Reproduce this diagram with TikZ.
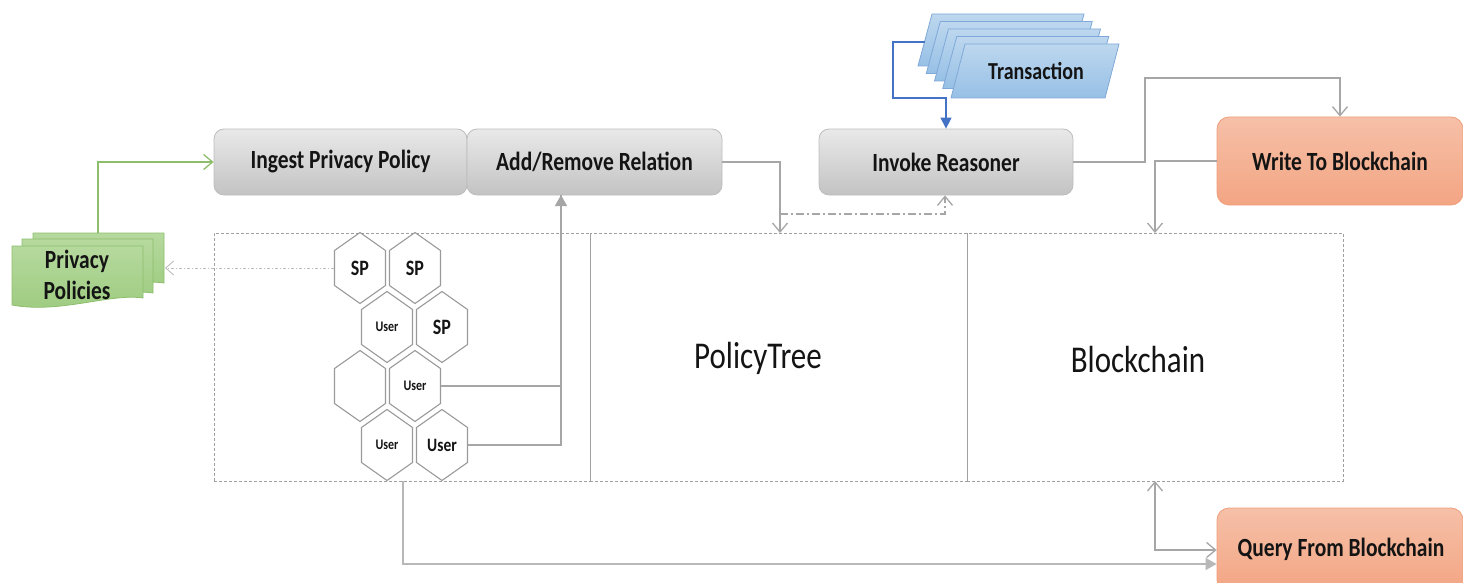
\documentclass[tikz,border=0pt]{standalone}
\usepackage{fontspec}
\usepackage{graphicx}
\setmainfont{Carlito}
\usetikzlibrary{arrows.meta,calc}

\definecolor{ink}{HTML}{141414}
\definecolor{wire}{HTML}{A6A6A6}
\definecolor{frame}{HTML}{A0A0A0}
\definecolor{boxtop}{HTML}{E9E9E9}
\definecolor{boxbot}{HTML}{C3C3C3}
\definecolor{boxline}{HTML}{BDBDBD}
\definecolor{orgtop}{HTML}{F6C0A8}
\definecolor{orgbot}{HTML}{F3A583}
\definecolor{orgline}{HTML}{EE9E7C}
\definecolor{grntop}{HTML}{B6D99E}
\definecolor{grnbot}{HTML}{9CCB7E}
\definecolor{grnline}{HTML}{8DBE6C}
\definecolor{bluetop}{HTML}{BDD7EE}
\definecolor{bluebot}{HTML}{97C0E6}
\definecolor{blueline}{HTML}{7FA8D8}
\definecolor{bluewire}{HTML}{4472C4}
\definecolor{hexline}{HTML}{9A9A9A}

% taller glyphs for the labels
\newcommand{\tall}[1]{\scalebox{1}[1.22]{#1}}

\tikzset{
  labelfont/.style={font=\fontsize{21.5}{25}\selectfont\bfseries, text=ink},
  graybox/.style={labelfont, rounded corners=10pt, draw=boxline, line width=0.8pt,
    top color=boxtop, bottom color=boxbot, minimum height=66pt, inner sep=0pt},
  orangebox/.style={labelfont, rounded corners=12pt, draw=orgline, line width=0.8pt,
    top color=orgtop, bottom color=orgbot, inner sep=0pt},
  panel/.style={draw=frame, line width=0.6pt, dash pattern=on 3pt off 2pt,
    minimum height=248pt, inner sep=0pt},
  bigword/.style={font=\fontsize{31}{36}\selectfont, text=ink},
  wireline/.style={draw=wire, line width=1.5pt},
  openhead/.style={wireline, -{Straight Barb[length=9pt,width=15pt,line width=1.3pt]}},
  openboth/.style={wireline, {Straight Barb[length=9pt,width=15pt,line width=1.3pt]}-{Straight Barb[length=9pt,width=15pt,line width=1.3pt]}},
  solidhead/.style={wireline, -{Triangle[length=11pt,width=12pt]}},
  hexcell/.style={minimum width=51pt, minimum height=71pt, inner sep=0pt, text=ink},
  hexstroke/.style={draw=hexline, line width=1.1pt},
  sptag/.style={font=\fontsize{18}{20}\selectfont\bfseries},
  usertag/.style={font=\fontsize{12}{14}\selectfont\bfseries},
  usertagbig/.style={font=\fontsize{15.5}{17}\selectfont\bfseries},
  txsheet/.style={draw=blueline, line width=0.8pt, top color=bluetop, bottom color=bluebot},
  docsheet/.style={draw=grnline, line width=0.8pt, top color=grntop, bottom color=grnbot},
}

\begin{document}
\begin{tikzpicture}[x=1pt,y=-1pt]
\useasboundingbox (0,0) rectangle (1463,583);

% --- the three dashed panels
\node[panel, minimum width=376pt] (users) at (402,357) {};
\node[panel, minimum width=377pt] (tree)  at (778.5,357) {};
\node[panel, minimum width=376pt] (chain) at (1155,357) {};
\node[bigword] (treelabel)  at (758,358) {\tall{PolicyTree}};
\node[bigword] (chainlabel) at (1138,360) {\tall{Blockchain}};

% --- process boxes
\node[graybox, minimum width=253pt] (ingest) at (340.5,162) {\tall{Ingest Privacy Policy}};
\node[graybox, minimum width=255pt] (addrel) at (594.5,162) {\tall{Add/Remove Relation}};
\node[graybox, minimum width=254pt] (invoke) at (946,162) {\tall{Invoke Reasoner}};
\node[orangebox, minimum width=246pt, minimum height=88pt] (write) at (1340,161) {\tall{Write To Blockchain}};
\node[orangebox, minimum width=246pt, minimum height=84pt] (query) at (1340,550) {};
\node[labelfont] (querytext) at (1341,549) {\tall{Query From Blockchain}};

% --- stack of transactions (back to front)
\foreach \k in {0,...,3}{
  \path[txsheet] ({932+8.25*\k},{14+7.5*\k}) -- ++(152,0) -- ++(-14,52) -- ++(-152,0) -- cycle;
}
\path[txsheet] (965,44) -- (1119,44) -- (1105,98) -- (951,98) -- cycle;
\node[font=\fontsize{20}{24}\selectfont\bfseries, text=ink] (tx) at (1036,71) {\tall{Transaction}};
\coordinate (txsrc) at (925,42);
\coordinate (txbend) at (893,98);

% --- stack of privacy policy documents (back to front)
\path[docsheet] (33,233) -- (164,233) -- (164,283)
  .. controls (130,278) and (80,296) .. (33,288) -- cycle;
\path[docsheet] (22,239) -- (153,239) -- (153,293)
  .. controls (119,288) and (69,306) .. (22,298) -- cycle;
\path[docsheet] (12,246) -- (143,246) -- (143,298)
  .. controls (110,293) and (60,314) .. (12,305) -- cycle;
\node[labelfont, inner sep=0pt] (pp1) at (77,261) {\tall{Privacy}};
\node[labelfont, inner sep=0pt] (pp2) at (77,290) {\tall{Policies}};
\coordinate (pptop) at (98,233);
\coordinate (ppside) at (165,268);

% --- cells of users and service providers
\node[hexcell, sptag]     (h1) at (360,268) {\tall{SP}};
\node[hexcell, sptag]     (h2) at (415,268) {\tall{SP}};
\node[hexcell, usertag]   (h3) at (387,327) {\tall{User}};
\node[hexcell, sptag]     (h4) at (442,327) {\tall{SP}};
\node[hexcell]            (h5) at (360,386) {};
\node[hexcell, usertag]   (h6) at (415,386) {\tall{User}};
\node[hexcell, usertag]   (h7) at (387,445) {\tall{User}};
\node[hexcell, usertagbig](h8) at (442,445) {\tall{User}};
\foreach \n in {h1,h2,h3,h4,h5,h6,h7,h8}{
  \draw[hexstroke] ($(\n.center)+(0,-35.5)$) -- ($(\n.center)+(25.5,-17.5)$)
    -- ($(\n.center)+(25.5,17.5)$) -- ($(\n.center)+(0,35.5)$)
    -- ($(\n.center)+(-25.5,17.5)$) -- ($(\n.center)+(-25.5,-17.5)$) -- cycle;
}

% --- anchor points on panels and boxes
\coordinate (addin)   at (561,195);
\coordinate (treein)  at (780,233);
\coordinate (reason)  at (780,214);
\coordinate (chainin) at (1155,233);
\coordinate (chainout) at (1155,481);
\coordinate (usersout) at (403,481);
\coordinate (writeup) at (1145,78);

% --- connectors
\draw[draw=grnline, line width=1.5pt, -{Straight Barb[length=9pt,width=15pt,line width=1.3pt]}]
  (pptop) |- (ingest.west);
\draw[draw=frame!70, line width=1pt, dash pattern=on 3pt off 2pt on 1pt off 2pt,
  -{Straight Barb[length=8pt,width=14pt,line width=0.9pt]}] (h1.west) -- (ppside);
\draw[wireline] (h8.east) -| (addin);
\draw[solidhead] (h6.east) -| (addin);
\draw[openhead] (addrel.east) -| (treein);
\draw[openhead, dash pattern=on 8pt off 3pt on 2pt off 3pt] (reason) -| ([xshift=-1pt]invoke.south);
\draw[draw=bluewire, line width=1.2pt, -{Triangle[length=11pt,width=11pt]}]
  (txsrc) -| (txbend) -| (invoke.north);
\draw[openhead] (invoke.east) -| (writeup) -| (write.north);
\draw[openhead] (write.west) -| (chainin);
\draw[openboth] (chainout) |- (query.west);
\draw[draw=wire!80, line width=1.5pt, -{Triangle[length=11pt,width=12pt]}]
  (usersout) |- ([yshift=-14pt]query.west);
\end{tikzpicture}
\end{document}
